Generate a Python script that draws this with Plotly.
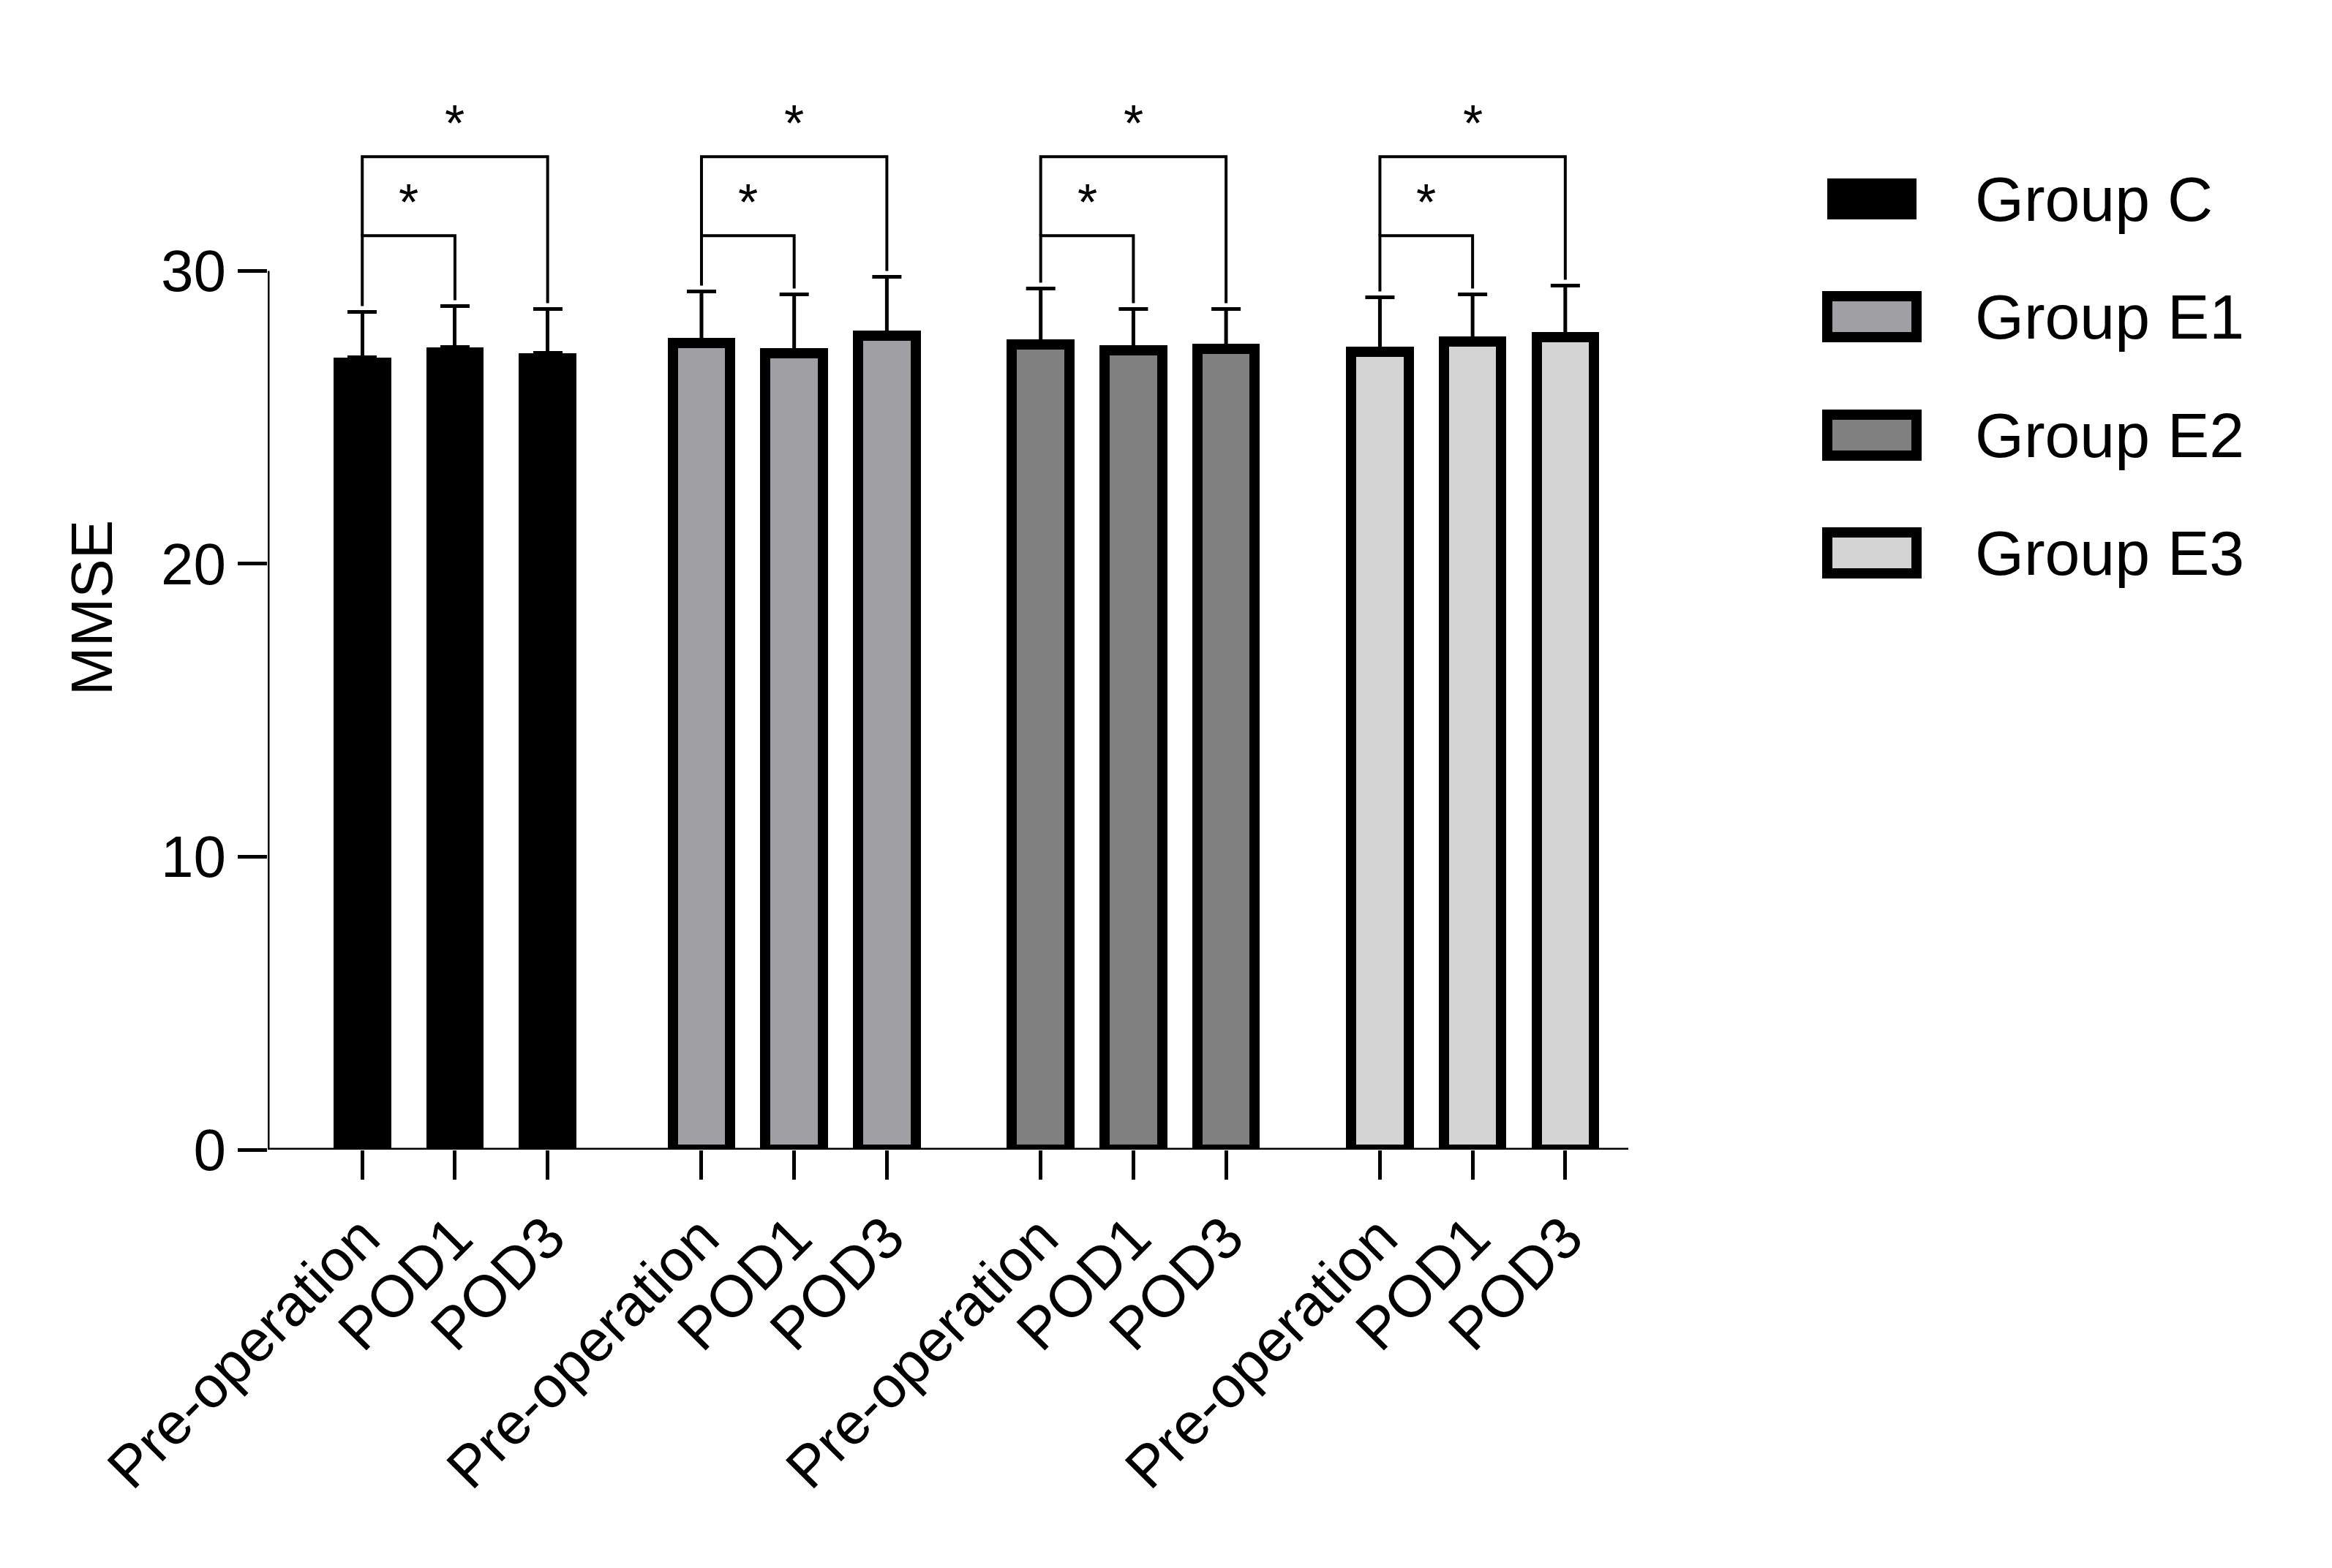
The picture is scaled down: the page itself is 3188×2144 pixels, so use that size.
import plotly.graph_objects as go

groups = ["Group C", "Group E1", "Group E2", "Group E3"]
timepoints = ["Pre-operation", "POD1", "POD3"]
means = {
    "Group C": [27.05, 27.4, 27.2],
    "Group E1": [27.55, 27.2, 27.8],
    "Group E2": [27.5, 27.3, 27.35],
    "Group E3": [27.25, 27.6, 27.75],
}
sds = {
    "Group C": [1.55, 1.4, 1.5],
    "Group E1": [1.75, 2.0, 2.0],
    "Group E2": [1.9, 1.4, 1.35],
    "Group E3": [1.85, 1.6, 1.75],
}
colors = {"Group C": "#000000", "Group E1": "#a0a0a4", "Group E2": "#808080", "Group E3": "#d4d4d4"}
offsets = [0, 3.66, 7.32, 10.98]

W, H = 3188, 2144
L, R, T, B = 358, 2218, 82, 1564
def px(x): return (x - L) / (R - L)
def py(y): return (B - y) / (B - T)

fig = go.Figure()
tickvals, ticktext = [], []
shapes, annots = [], []
for gi, g in enumerate(groups):
    xs = [offsets[gi] + i for i in range(3)]
    tickvals += xs; ticktext += timepoints
    fig.add_trace(go.Bar(x=xs, y=means[g], width=0.62, marker=dict(color=colors[g], line=dict(color="black", width=14 if g != "Group C" else 0)),
                         error_y=dict(type="data", array=sds[g], arrayminus=[0]*3, color="black", thickness=5, width=20),
                         showlegend=False))
    tops = [m + s for m, s in zip(means[g], sds[g])]
    # lower bracket
    yb1 = 31.2
    shapes.append(dict(type="path", path=f"M {xs[0]},{tops[0]+0.2} L {xs[0]},{yb1} L {xs[1]},{yb1} L {xs[1]},{tops[1]+0.2}", line=dict(color="black", width=4)))
    annots.append(dict(x=(xs[0]+xs[1])/2, y=yb1+0.1, text="*", showarrow=False, yanchor="bottom", font=dict(size=70, color="black", family="Liberation Sans")))
    yb2 = 33.9
    shapes.append(dict(type="path", path=f"M {xs[0]},{yb1} L {xs[0]},{yb2} L {xs[2]},{yb2} L {xs[2]},{tops[2]+0.2}", line=dict(color="black", width=4)))
    annots.append(dict(x=(xs[0]+xs[2])/2, y=yb2+0.1, text="*", showarrow=False, yanchor="bottom", font=dict(size=70, color="black", family="Liberation Sans")))

# axis lines
shapes.append(dict(type="line", xref="x", yref="y", x0=-1.02, x1=-1.02, y0=0, y1=30, line=dict(color="black", width=5)))
shapes.append(dict(type="line", xref="x", yref="y", x0=-1.02, x1=13.66, y0=0, y1=0, line=dict(color="black", width=5)))

# legend
rows = [264, 425, 587, 748]
for g, yc in zip(groups, rows):
    shapes.append(dict(type="rect", xref="paper", yref="paper", x0=px(2490), x1=px(2612), y0=py(yc-28), y1=py(yc+28),
                       fillcolor=colors[g], line=dict(color="black", width=14 if g != "Group C" else 0)))
    annots.append(dict(xref="paper", yref="paper", x=px(2690), y=py(yc), text=g, showarrow=False, xanchor="left", yanchor="middle",
                       font=dict(size=86, color="black")))

fig.update_layout(
    width=W, height=H, margin=dict(l=L, r=W-R, t=T, b=H-B),
    plot_bgcolor="white", paper_bgcolor="white",
    font=dict(family="Liberation Sans, Arial", color="black", size=80),
    shapes=shapes, annotations=annots, bargap=0,
    xaxis=dict(range=[-1.02, 13.66], tickvals=tickvals, ticktext=ticktext, tickangle=-45, showgrid=False, zeroline=False,
               ticks="outside", ticklen=40, tickwidth=5, tickcolor="black", tickfont=dict(size=80)),
    yaxis=dict(range=[0, 37], tickvals=[0, 10, 20, 30], showgrid=False, zeroline=False, ticks="outside", ticklen=40,
               tickwidth=5, tickcolor="black", tickfont=dict(size=80), title=dict(text="MMSE", font=dict(size=80), standoff=40)),
)
fig.write_html("out.html")
